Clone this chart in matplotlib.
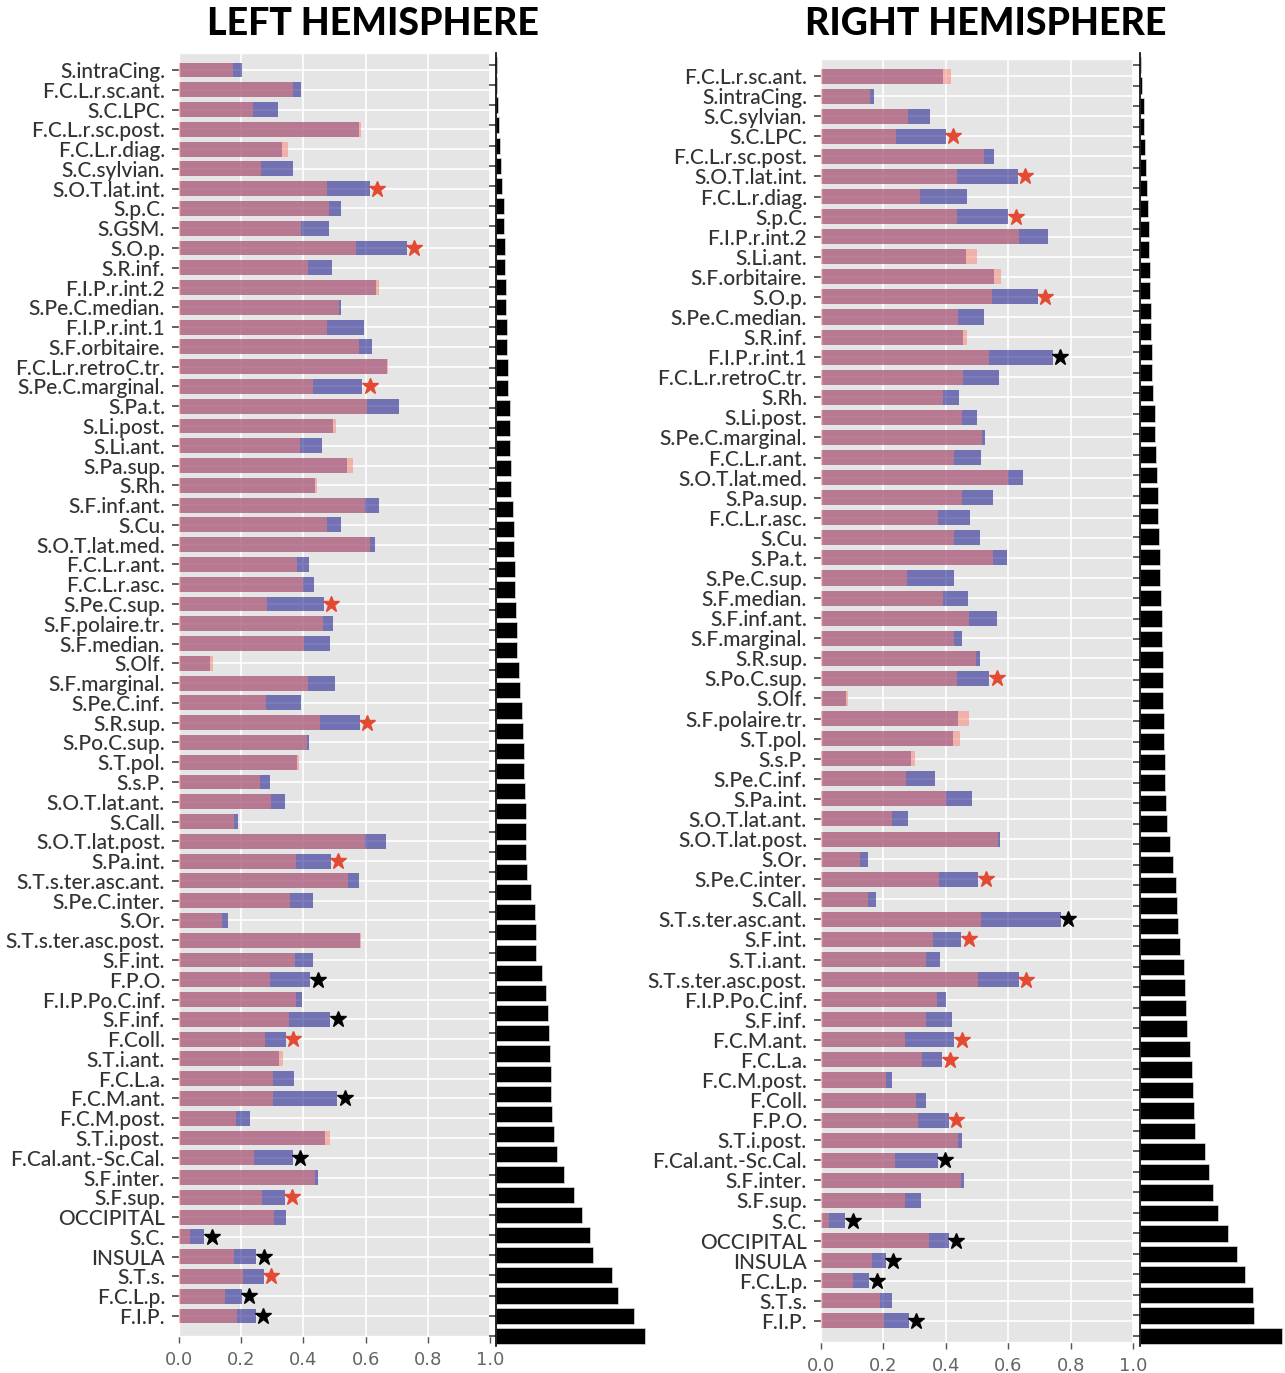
import matplotlib
matplotlib.use('Agg')
import matplotlib.pyplot as plt

# ---- left hemisphere -------------------------------------------------------
LEFT_LABELS = [
    'S.intraCing.', 'F.C.L.r.sc.ant.', 'S.C.LPC.', 'F.C.L.r.sc.post.', 'F.C.L.r.diag.',
    'S.C.sylvian.', 'S.O.T.lat.int.', 'S.p.C.', 'S.GSM.', 'S.O.p.', 'S.R.inf.',
    'F.I.P.r.int.2', 'S.Pe.C.median.', 'F.I.P.r.int.1', 'S.F.orbitaire.',
    'F.C.L.r.retroC.tr.', 'S.Pe.C.marginal.', 'S.Pa.t.', 'S.Li.post.', 'S.Li.ant.',
    'S.Pa.sup.', 'S.Rh.', 'S.F.inf.ant.', 'S.Cu.', 'S.O.T.lat.med.', 'F.C.L.r.ant.',
    'F.C.L.r.asc.', 'S.Pe.C.sup.', 'S.F.polaire.tr.', 'S.F.median.', 'S.Olf.',
    'S.F.marginal.', 'S.Pe.C.inf.', 'S.R.sup.', 'S.Po.C.sup.', 'S.T.pol.', 'S.s.P.',
    'S.O.T.lat.ant.', 'S.Call.', 'S.O.T.lat.post.', 'S.Pa.int.', 'S.T.s.ter.asc.ant.',
    'S.Pe.C.inter.', 'S.Or.', 'S.T.s.ter.asc.post.', 'S.F.int.', 'F.P.O.',
    'F.I.P.Po.C.inf.', 'S.F.inf.', 'F.Coll.', 'S.T.i.ant.', 'F.C.L.a.', 'F.C.M.ant.',
    'F.C.M.post.', 'S.T.i.post.', 'F.Cal.ant.-Sc.Cal.', 'S.F.inter.', 'S.F.sup.',
    'OCCIPITAL', 'S.C.', 'INSULA', 'S.T.s.', 'F.C.L.p.', 'F.I.P.',
]
LEFT_PINK = [
    0.173, 0.367, 0.237, 0.586, 0.349, 0.263, 0.475, 0.483, 0.393, 0.570, 0.414,
    0.642, 0.514, 0.475, 0.578, 0.672, 0.432, 0.604, 0.504, 0.388, 0.560, 0.444,
    0.599, 0.475, 0.613, 0.380, 0.399, 0.284, 0.462, 0.401, 0.108, 0.414, 0.280,
    0.452, 0.411, 0.387, 0.259, 0.297, 0.176, 0.599, 0.375, 0.544, 0.358, 0.138,
    0.586, 0.372, 0.294, 0.375, 0.354, 0.277, 0.333, 0.303, 0.303, 0.182, 0.487,
    0.242, 0.437, 0.267, 0.307, 0.035, 0.176, 0.207, 0.147, 0.186,
]
LEFT_BLUE = [
    0.202, 0.391, 0.319, 0.578, 0.332, 0.366, 0.613, 0.522, 0.482, 0.733, 0.492,
    0.635, 0.522, 0.595, 0.620, 0.668, 0.590, 0.707, 0.496, 0.461, 0.539, 0.436,
    0.642, 0.522, 0.630, 0.418, 0.435, 0.465, 0.496, 0.487, 0.099, 0.501, 0.393,
    0.582, 0.418, 0.380, 0.293, 0.340, 0.189, 0.664, 0.488, 0.579, 0.431, 0.159,
    0.582, 0.431, 0.422, 0.396, 0.487, 0.344, 0.320, 0.371, 0.509, 0.228, 0.471,
    0.366, 0.448, 0.340, 0.344, 0.081, 0.249, 0.272, 0.202, 0.246,
]
LEFT_RED_STARS = ['S.O.T.lat.int.', 'S.O.p.', 'S.Pe.C.marginal.', 'S.Pe.C.sup.',
                  'S.R.sup.', 'S.Pa.int.', 'F.Coll.', 'S.F.sup.', 'S.T.s.']
LEFT_BLACK_STARS = ['F.P.O.', 'S.F.inf.', 'F.C.M.ant.', 'F.Cal.ant.-Sc.Cal.',
                    'S.C.', 'INSULA', 'F.C.L.p.', 'F.I.P.']
LEFT_COUNTS = [
    1, 1, 2, 3, 4, 5, 6, 8, 8, 9, 9, 10, 10, 11, 11, 12, 12, 14, 14, 14,
    15, 15, 17, 18, 18, 19, 19, 20, 21, 21, 23, 24, 26, 27, 28, 28, 29, 30, 30, 30,
    31, 35, 39, 40, 40, 46, 50, 52, 53, 54, 55, 55, 56, 58, 61, 68, 78, 86, 94, 97,
    116, 122, 138, 149,
]

# ---- right hemisphere ------------------------------------------------------
RIGHT_LABELS = [
    'F.C.L.r.sc.ant.', 'S.intraCing.', 'S.C.sylvian.', 'S.C.LPC.', 'F.C.L.r.sc.post.',
    'S.O.T.lat.int.', 'F.C.L.r.diag.', 'S.p.C.', 'F.I.P.r.int.2', 'S.Li.ant.',
    'S.F.orbitaire.', 'S.O.p.', 'S.Pe.C.median.', 'S.R.inf.', 'F.I.P.r.int.1',
    'F.C.L.r.retroC.tr.', 'S.Rh.', 'S.Li.post.', 'S.Pe.C.marginal.', 'F.C.L.r.ant.',
    'S.O.T.lat.med.', 'S.Pa.sup.', 'F.C.L.r.asc.', 'S.Cu.', 'S.Pa.t.', 'S.Pe.C.sup.',
    'S.F.median.', 'S.F.inf.ant.', 'S.F.marginal.', 'S.R.sup.', 'S.Po.C.sup.',
    'S.Olf.', 'S.F.polaire.tr.', 'S.T.pol.', 'S.s.P.', 'S.Pe.C.inf.', 'S.Pa.int.',
    'S.O.T.lat.ant.', 'S.O.T.lat.post.', 'S.Or.', 'S.Pe.C.inter.', 'S.Call.',
    'S.T.s.ter.asc.ant.', 'S.F.int.', 'S.T.i.ant.', 'S.T.s.ter.asc.post.',
    'F.I.P.Po.C.inf.', 'S.F.inf.', 'F.C.M.ant.', 'F.C.L.a.', 'F.C.M.post.', 'F.Coll.',
    'F.P.O.', 'S.T.i.post.', 'F.Cal.ant.-Sc.Cal.', 'S.F.inter.', 'S.F.sup.', 'S.C.',
    'OCCIPITAL', 'INSULA', 'F.C.L.p.', 'S.T.s.', 'F.I.P.',
]
RIGHT_PINK = [
    0.418, 0.158, 0.279, 0.241, 0.522, 0.436, 0.318, 0.436, 0.634, 0.500, 0.577,
    0.547, 0.440, 0.469, 0.540, 0.456, 0.392, 0.453, 0.517, 0.426, 0.600, 0.453,
    0.376, 0.427, 0.552, 0.276, 0.392, 0.474, 0.427, 0.496, 0.436, 0.086, 0.474,
    0.444, 0.302, 0.272, 0.401, 0.228, 0.567, 0.125, 0.379, 0.151, 0.514, 0.358,
    0.336, 0.504, 0.372, 0.336, 0.268, 0.323, 0.207, 0.305, 0.310, 0.440, 0.238,
    0.450, 0.268, 0.026, 0.345, 0.164, 0.104, 0.190, 0.202,
]
RIGHT_BLUE = [
    0.392, 0.171, 0.348, 0.400, 0.556, 0.630, 0.469, 0.600, 0.729, 0.466, 0.556,
    0.694, 0.521, 0.456, 0.742, 0.569, 0.443, 0.500, 0.526, 0.513, 0.647, 0.551,
    0.479, 0.509, 0.595, 0.426, 0.470, 0.565, 0.453, 0.509, 0.539, 0.081, 0.440,
    0.423, 0.289, 0.366, 0.483, 0.279, 0.574, 0.150, 0.504, 0.176, 0.768, 0.449,
    0.383, 0.634, 0.400, 0.419, 0.427, 0.388, 0.228, 0.336, 0.410, 0.453, 0.375,
    0.457, 0.319, 0.077, 0.410, 0.207, 0.155, 0.228, 0.281,
]
RIGHT_RED_STARS = ['S.C.LPC.', 'S.O.T.lat.int.', 'S.p.C.', 'S.O.p.', 'S.Po.C.sup.',
                   'S.Pe.C.inter.', 'S.F.int.', 'S.T.s.ter.asc.post.', 'F.C.M.ant.',
                   'F.C.L.a.', 'F.P.O.']
RIGHT_BLACK_STARS = ['F.I.P.r.int.1', 'S.T.s.ter.asc.ant.', 'F.Cal.ant.-Sc.Cal.', 'S.C.',
                     'OCCIPITAL', 'INSULA', 'F.C.L.p.', 'F.I.P.']
RIGHT_COUNTS = [
    1, 2, 4, 4, 5, 6, 7, 8, 9, 9, 10, 10, 11, 11, 12, 12, 13, 15, 15, 16,
    17, 18, 18, 19, 20, 20, 21, 22, 22, 23, 23, 23, 24, 24, 25, 25, 26, 27, 30, 33,
    36, 37, 38, 40, 44, 45, 46, 47, 50, 52, 53, 54, 55, 65, 69, 73, 78, 88, 97, 105,
    113, 114, 142,
]

W, H = 1285, 1373
plt.style.use('ggplot')
fig = plt.figure(figsize=(W / 100, H / 100), dpi=100)


def px_axes(x0, y0, x1, y1):
    # axes from pixel box (top-left origin)
    return fig.add_axes([x0 / W, 1 - y1 / H, (x1 - x0) / W, (y1 - y0) / H])


def draw_panel(labels, pink, blue, red_stars, black_stars, counts,
               main_box, main_pad, side_box, side_pad, title, title_x):
    n = len(labels)
    y = list(range(n))

    ax = px_axes(*main_box)
    ax.barh(y, blue, height=0.75, color='navy', alpha=0.5, zorder=2)
    ax.barh(y, pink, height=0.75, color='salmon', alpha=0.5, zorder=3)
    for i, lab in enumerate(labels):
        end = max(pink[i], blue[i]) + 0.024
        if lab in red_stars:
            ax.plot(end, i, marker='*', ms=12, color='#E24A33', mec='#E24A33', zorder=4)
        elif lab in black_stars:
            ax.plot(end, i, marker='*', ms=12, color='black', mec='black', zorder=4)
    ax.set_xlim(0, 1)
    ax.set_ylim(n - 1 + main_pad[1], -main_pad[0])
    ax.set_yticks(y)
    ax.set_yticklabels(labels, fontsize=15, family='Lato', fontweight='medium',
                       color='#333333')
    ax.set_xticks([0, 0.2, 0.4, 0.6, 0.8, 1.0])
    ax.set_xticklabels(['0.0', '0.2', '0.4', '0.6', '0.8', '1.0'],
                       fontsize=13, color='#666666')
    ax.tick_params(axis='y', length=5, width=1.2, color='#444444', pad=5)
    ax.tick_params(axis='x', length=5, width=1, color='#555555', pad=6)
    ax.grid(True, color='white', linewidth=1.2)

    side = px_axes(*side_box)
    side.set_facecolor('white')
    side.barh(y, counts, height=0.8, color='black', edgecolor='#dddddd', linewidth=0.5)
    side.set_xlim(0, side_box[2] - side_box[0])
    side.set_ylim(n - 1 + side_pad[1], -side_pad[0])
    side.grid(False)
    for s in ['top', 'right', 'bottom']:
        side.spines[s].set_visible(False)
    side.spines['left'].set_visible(True)
    side.spines['left'].set_color('black')
    side.spines['left'].set_linewidth(1.2)
    side.set_yticks(y)
    side.set_yticklabels([])
    side.set_xticks([])
    side.tick_params(axis='y', length=5, width=1.2, color='#444444')

    fig.text(title_x / W, 1 - 24 / H, title, ha='center', va='center',
             fontsize=27, fontweight='black', family='Lato', color='black')


draw_panel(LEFT_LABELS, LEFT_PINK, LEFT_BLUE, LEFT_RED_STARS, LEFT_BLACK_STARS,
           LEFT_COUNTS, (179, 53, 490, 1336), (0.86, 1.01),
           (496, 53, 648, 1346), (0.59, 0.5), 'LEFT HEMISPHERE', 373)
draw_panel(RIGHT_LABELS, RIGHT_PINK, RIGHT_BLUE, RIGHT_RED_STARS, RIGHT_BLACK_STARS,
           RIGHT_COUNTS, (821, 59, 1133, 1342), (0.85, 1.05),
           (1140, 53, 1284, 1346), (0.59, 0.49), 'RIGHT HEMISPHERE', 986)

fig.savefig('out.png', dpi=100, facecolor='white')
